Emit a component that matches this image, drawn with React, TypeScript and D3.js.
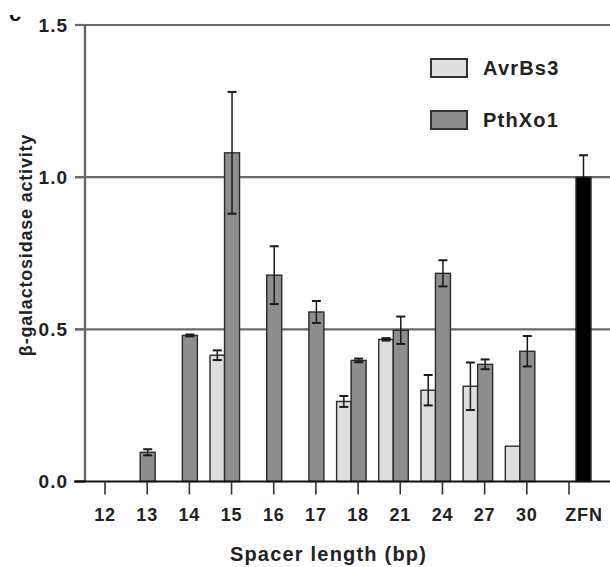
import * as d3 from "d3";

const categories = ["12", "13", "14", "15", "16", "17", "18", "21", "24", "27", "30", "ZFN"];
const avrBs3 = [null, null, null, 0.415, null, null, 0.263, 0.467, 0.3, 0.313, 0.116, null];
const avrBs3Err = [null, null, null, 0.016, null, null, 0.018, 0.004, 0.05, 0.078, null, null];
const pthXo1 = [null, 0.096, 0.48, 1.08, 0.678, 0.557, 0.398, 0.497, 0.684, 0.385, 0.428, null];
const pthXo1Err = [null, 0.01, 0.003, 0.2, 0.095, 0.036, 0.006, 0.045, 0.043, 0.016, 0.05, null];
const zfn = [null, null, null, null, null, null, null, null, null, null, null, 1.0];
const zfnErr = [null, null, null, null, null, null, null, null, null, null, null, 0.072];
const yTicks = [0, 0.5, 1.0, 1.5];

const W = 610;
const H = 567;
const FONT = "'Liberation Sans', Arial, sans-serif";

type Bar = { key: string; cat: string; value: number; err: number | null; dx0: number; dx1: number; fill: string };

export default function App() {
  const x = d3.scalePoint<string>().domain(categories).range([105, 569]);
  const y = d3.scaleLinear().domain([0, 1.5]).range([481.5, 25]);
  const axisX = 85;
  const bw = 14.5;

  const bars: Bar[] = [];
  categories.forEach((c, i) => {
    if (avrBs3[i] != null)
      bars.push({ key: "a" + c, cat: c, value: avrBs3[i]!, err: avrBs3Err[i], dx0: -7 - bw, dx1: -7, fill: "#dedede" });
    if (pthXo1[i] != null)
      bars.push({ key: "p" + c, cat: c, value: pthXo1[i]!, err: pthXo1Err[i], dx0: -7, dx1: -7 + bw + 0.5, fill: "#8e8e8e" });
    if (zfn[i] != null)
      bars.push({ key: "z" + c, cat: c, value: zfn[i]!, err: zfnErr[i], dx0: 7, dx1: 22, fill: "#000" });
  });

  // ZFN label sits under its (offset) bar, not under the tick
  const labelX = (c: string) => (c === "ZFN" ? x(c)! + 15 : x(c)!);

  return (
    <svg width={W} height={H} style={{ position: "absolute", left: 0, top: 0, background: "#fff" }} fontFamily={FONT}>
      <defs>
        <clipPath id="panelClip">
          <rect x={0} y={15} width={40} height={10} />
        </clipPath>
      </defs>
      {/* cropped panel letter */}
      <text x={9} y={20.5} fontSize={22} fontWeight="bold" clipPath="url(#panelClip)" fill="#111">c</text>

      {/* grid lines */}
      {yTicks.filter((t) => t > 0).map((t) => (
        <line key={t} x1={75} x2={W} y1={y(t)} y2={y(t)} stroke="#6a6a6a" strokeWidth={2.2} />
      ))}
      {/* y axis */}
      <line x1={axisX} x2={axisX} y1={y(1.5)} y2={y(0)} stroke="#666" strokeWidth={2.4} />

      {/* bars */}
      {bars.map((b) => (
        <rect
          key={b.key}
          x={x(b.cat)! + b.dx0}
          width={b.dx1 - b.dx0}
          y={y(b.value)}
          height={y(0) - y(b.value)}
          fill={b.fill}
          stroke="#2a2a2a"
          strokeWidth={1.4}
        />
      ))}
      {/* error bars */}
      {bars.filter((b) => b.err != null).map((b) => {
        const cx = x(b.cat)! + (b.dx0 + b.dx1) / 2;
        const hi = y(b.value + b.err!);
        const lo = y(b.value - b.err!);
        const lowCol = b.fill === "#000" ? "#000" : "#1a1a1a";
        return (
          <g key={"e" + b.key} stroke="#1a1a1a" strokeWidth={1.5}>
            <line x1={cx} x2={cx} y1={hi} y2={y(b.value)} />
            <line x1={cx} x2={cx} y1={y(b.value)} y2={lo} stroke={lowCol} />
            <line x1={cx - 4.5} x2={cx + 4.5} y1={hi} y2={hi} strokeWidth={2} />
            <line x1={cx - 4.5} x2={cx + 4.5} y1={lo} y2={lo} strokeWidth={2} stroke={lowCol} />
          </g>
        );
      })}

      {/* x axis */}
      <line x1={74} x2={W} y1={y(0)} y2={y(0)} stroke="#111" strokeWidth={2.2} />
      {yTicks.map((t) => (
        <g key={"yt" + t}>
          <line x1={75} x2={axisX} y1={y(t)} y2={y(t)} stroke={t === 0 ? "#111" : "#6a6a6a"} strokeWidth={2.2} />
          <text x={68} y={y(t)} dy="0.36em" textAnchor="end" fontSize={19} fontWeight="bold" letterSpacing={1} fill="#222">
            {t.toFixed(1)}
          </text>
        </g>
      ))}
      {categories.map((c) => (
        <g key={"xt" + c}>
          <line x1={x(c)} x2={x(c)} y1={y(0)} y2={y(0) + 13} stroke="#333" strokeWidth={1.6} />
          <text x={labelX(c)} y={521} textAnchor="middle" fontSize={18} fontWeight="bold" letterSpacing={0.8} fill="#222">
            {c}
          </text>
        </g>
      ))}

      {/* axis titles */}
      <text x={(230 + 427) / 2} y={561} textAnchor="middle" fontSize={20} fontWeight="bold" letterSpacing={1.2} fill="#222">
        Spacer length (bp)
      </text>
      <text
        transform={`translate(32,${245}) rotate(-90)`}
        textAnchor="middle"
        fontSize={18}
        fontWeight="bold"
        letterSpacing={0.8}
        fill="#222"
      >
        β-galactosidase activity
      </text>

      {/* legend */}
      <rect x={431} y={59} width={36} height={18} fill="#dedede" stroke="#333" strokeWidth={2} />
      <text x={483} y={75} fontSize={20} fontWeight="bold" letterSpacing={1.2} fill="#222">AvrBs3</text>
      <rect x={431} y={111} width={36} height={18} fill="#8e8e8e" stroke="#333" strokeWidth={2} />
      <text x={483} y={127} fontSize={20} fontWeight="bold" letterSpacing={1.2} fill="#222">PthXo1</text>
    </svg>
  );
}
